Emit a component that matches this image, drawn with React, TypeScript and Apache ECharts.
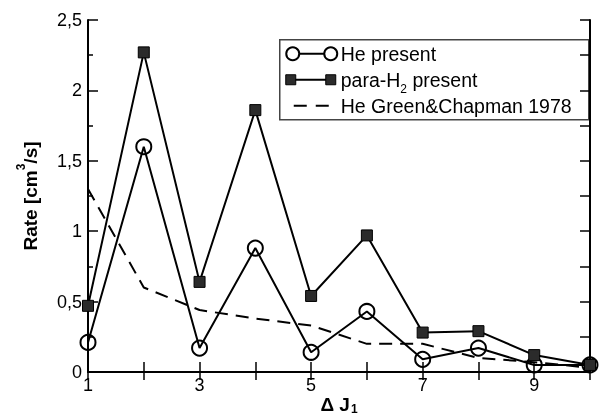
import React, { useEffect, useRef } from "react";
import * as echarts from "echarts";

const deltaJ = [1, 2, 3, 4, 5, 6, 7, 8, 9, 10];
const heRates = [0.21, 1.6, 0.17, 0.88, 0.14, 0.43, 0.09, 0.17, 0.05, 0.05];
const h2Rates = [0.47, 2.27, 0.64, 1.86, 0.54, 0.97, 0.28, 0.29, 0.12, 0.05];
const gcRates = [1.3, 0.6, 0.44, 0.38, 0.33, 0.2, 0.2, 0.1, 0.07, 0.03];
const seriesNames = ["He present", "para-H2 present", "He Green&Chapman 1978"];

const FONT = "Liberation Sans, Arial, sans-serif";

export default function App() {
  const ref = useRef<HTMLDivElement>(null);
  useEffect(() => {
    if (!ref.current) return;
    const chart = echarts.init(ref.current, undefined, { renderer: "svg" });
    const pairs = (vals: number[]) => deltaJ.map((x, i) => [x, vals[i]]);
    const lx = 279, ly = 39, lw = 309, lh = 80;
    chart.setOption({
      animation: false,
      textStyle: { fontFamily: FONT },
      grid: { left: 88, right: 15, top: 20, bottom: 44, outerBoundsMode: "none", containLabel: false },
      xAxis: [
        {
          type: "value", min: 1, max: 10, interval: 1, position: "bottom",
          name: "{b|Δ J}{s|1}", nameLocation: "middle", nameGap: 22, nameMoveOverlap: false,
          nameTextStyle: {
            rich: {
              b: { fontSize: 19, fontWeight: "bold", fontFamily: FONT, color: "#000", lineHeight: 20 },
              s: { fontSize: 12, fontWeight: "bold", fontFamily: FONT, color: "#000", verticalAlign: "bottom", padding: [0, 0, -1, 1] },
            },
          },
          axisLine: { lineStyle: { color: "#000", width: 2 } },
          axisTick: { inside: true, length: 10, lineStyle: { color: "#000", width: 1.5 } },
          axisLabel: {
            margin: 4, fontSize: 18, color: "#000", fontFamily: FONT,
            formatter: (v: number) => (v % 2 === 1 ? String(v) : ""),
          },
          splitLine: { show: false },
        },
        {
          type: "value", min: 1, max: 10, interval: 1, position: "top",
          axisLine: { lineStyle: { color: "#000", width: 2 } },
          axisTick: { inside: true, length: 8, lineStyle: { color: "#000", width: 1.5 } },
          axisLabel: { show: false },
          splitLine: { show: false },
        },
      ],
      yAxis: [
        {
          type: "value", min: 0, max: 2.5, interval: 0.5, position: "left",
          name: "{n|Rate [cm}{p|3}{n|/s]}", nameLocation: "middle", nameGap: 47, nameRotate: 90,
          nameTextStyle: {
            rich: {
              n: { fontSize: 19, fontWeight: "bold", fontFamily: FONT, color: "#000", lineHeight: 22 },
              p: { fontSize: 12, fontWeight: "bold", fontFamily: FONT, color: "#000", verticalAlign: "top", padding: [-4, 0, 0, 0] },
            },
          },
          axisLine: { show: true, lineStyle: { color: "#000", width: 2 } },
          axisTick: { show: true, inside: true, length: 10, lineStyle: { color: "#000", width: 1.5 } },
          minorTick: { show: true, splitNumber: 2, length: 5, lineStyle: { color: "#000", width: 1.5 } },
          axisLabel: {
            margin: 6, fontSize: 18, color: "#000", fontFamily: FONT,
            formatter: (v: number) => String(v).replace(".", ","),
          },
          splitLine: { show: false },
        },
        {
          type: "value", min: 0, max: 2.5, interval: 0.25, position: "right",
          axisLine: { show: true, lineStyle: { color: "#000", width: 2 } },
          axisTick: { show: true, inside: true, length: 10, lineStyle: { color: "#000", width: 1.5 } },
          axisLabel: { show: false },
          splitLine: { show: false },
        },
      ],
      series: [
        {
          name: seriesNames[2], type: "line", data: pairs(gcRates), clip: false,
          showSymbol: false, symbol: "none",
          lineStyle: { color: "#000", width: 2, type: [13, 8] },
          z: 2,
        },
        {
          name: seriesNames[0], type: "line", data: pairs(heRates), clip: false,
          symbol: "circle", symbolSize: 15,
          lineStyle: { color: "#000", width: 2 },
          itemStyle: { color: "rgba(0,0,0,0)", borderColor: "#000", borderWidth: 2 },
          z: 3,
        },
        {
          name: seriesNames[1], type: "line", data: pairs(h2Rates), clip: false,
          symbol: "rect", symbolSize: 11,
          lineStyle: { color: "#000", width: 2 },
          itemStyle: { color: "#2b2b2b", borderColor: "#000", borderWidth: 1 },
          z: 4,
        },
      ],
      graphic: [
        {
          type: "group", left: lx, top: ly, z: 100,
          children: [
            { type: "rect", shape: { x: 0, y: 0, width: lw, height: lh }, style: { fill: "#fff", stroke: "#444", lineWidth: 1.5 } },
            { type: "line", shape: { x1: 13, y1: 14, x2: 51, y2: 14 }, style: { stroke: "#000", lineWidth: 2 } },
            { type: "circle", shape: { cx: 13, cy: 14, r: 6.5 }, style: { fill: "#fff", stroke: "#000", lineWidth: 2 } },
            { type: "circle", shape: { cx: 51, cy: 14, r: 6.5 }, style: { fill: "#fff", stroke: "#000", lineWidth: 2 } },
            { type: "text", x: 61, y: 14, style: { text: seriesNames[0], font: `19.5px ${FONT}`, fill: "#000", verticalAlign: "middle" } },
            { type: "line", shape: { x1: 11, y1: 40, x2: 51, y2: 40 }, style: { stroke: "#000", lineWidth: 2 } },
            { type: "rect", shape: { x: 6, y: 35, width: 10, height: 10 }, style: { fill: "#2b2b2b", stroke: "#000", lineWidth: 1 } },
            { type: "rect", shape: { x: 46, y: 35, width: 10, height: 10 }, style: { fill: "#2b2b2b", stroke: "#000", lineWidth: 1 } },
            {
              type: "text", x: 61, y: 40,
              style: {
                text: "{n|para-H}{s|2}{n| present}", verticalAlign: "middle", fill: "#000",
                rich: {
                  n: { fontSize: 19.5, fontFamily: FONT, color: "#000", lineHeight: 22 },
                  s: { fontSize: 12, fontFamily: FONT, color: "#000", verticalAlign: "bottom", padding: [0, 0, -4, 0] },
                },
              },
            },
            { type: "line", shape: { x1: 14, y1: 66, x2: 49, y2: 66 }, style: { stroke: "#000", lineWidth: 2, lineDash: [13, 9] } },
            { type: "text", x: 61, y: 66, style: { text: seriesNames[2], font: `19.5px ${FONT}`, fill: "#000", verticalAlign: "middle" } },
          ],
        },
      ],
    });
    return () => chart.dispose();
  }, []);
  return <div ref={ref} style={{ position: "fixed", left: 0, top: 0, width: 605, height: 416 }} />;
}
